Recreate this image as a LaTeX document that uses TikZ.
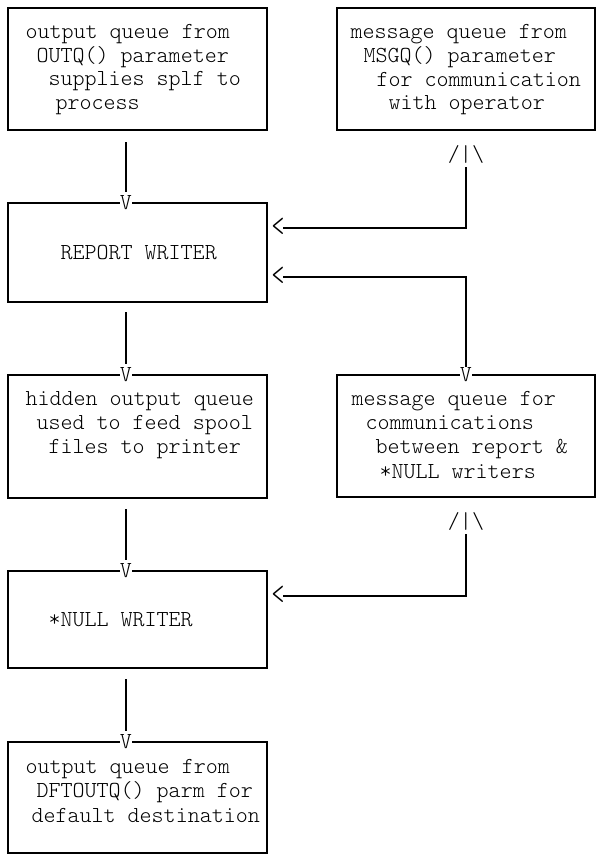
\documentclass[tikz,border=0pt]{standalone}
\usetikzlibrary{calc}
\begin{document}
\begin{tikzpicture}[x=1pt,y=-1pt,
  box/.style={draw=black, line width=1.5pt, inner sep=0pt, outer sep=0pt, rectangle},
  conn/.style={draw=black, line width=1.6pt},
  txt/.style={font=\ttfamily\fontseries{l}\fontsize{22.9}{24}\selectfont, inner sep=0pt, outer sep=0pt, anchor=base west},
  glyph/.style={font=\ttfamily\fontseries{l}\fontsize{22.9}{24}\selectfont, inner sep=0pt, outer sep=0pt, anchor=base},
]
\useasboundingbox (0,0) rectangle (597,865);

% boxes
\node[box, minimum width=259pt, minimum height=122pt] (b1) at (137.5,69) {};
\node[box, minimum width=258pt, minimum height=122pt] (b2) at (466,69) {};
\node[box, minimum width=259pt, minimum height=99pt] (b3) at (137.5,252.5) {};
\node[box, minimum width=259pt, minimum height=123pt] (b4) at (137.5,436.5) {};
\node[box, minimum width=258pt, minimum height=122pt] (b5) at (466,436) {};
\node[box, minimum width=259pt, minimum height=97pt] (b6) at (137.5,619.5) {};
\node[box, minimum width=259pt, minimum height=111pt] (b7) at (137.5,797.5) {};

% texts
\node[txt] (t1a) at (25.5,38) {output queue from};
\node[txt] (t1b) at (36.5,62) {OUTQ() parameter};
\node[txt] (t1c) at (48.5,85.5) {supplies splf to};
\node[txt] (t1d) at (55.5,109) {process};

\node[txt] (t2a) at (350.5,38) {message queue from};
\node[txt] (t2b) at (363.5,62) {MSGQ() parameter};
\node[txt] (t2c) at (376.5,86) {for communication};
\node[txt] (t2d) at (388.5,109.5) {with operator};

\node[txt] (t3a) at (60.5,259.5) {REPORT WRITER};

\node[txt] (t4a) at (25.5,405) {hidden output queue};
\node[txt] (t4b) at (36.5,429) {used to feed spool};
\node[txt] (t4c) at (48.5,453) {files to printer};

\node[txt] (t5a) at (351.5,405) {message queue for};
\node[txt] (t5b) at (365.5,429) {communications};
\node[txt] (t5c) at (375.5,453) {between report \&};
\node[txt] (t5d) at (379.5,478) {*NULL writers};

\node[txt] (t6a) at (48.5,626) {*NULL WRITER};

\node[txt] (t7a) at (25.5,773) {output queue from};
\node[txt] (t7b) at (36.5,797) {DFTOUTQ() parm for};
\node[txt] (t7c) at (31.5,822) {default destination};

% left downward connectors
\draw[conn] ($(b1.south)+(-11.5,12)$) -- ($(b3.north)+(-11.5,-11)$);
\draw[conn] ($(b3.south)+(-11.5,10)$) -- ($(b4.north)+(-11.5,-11)$);
\draw[conn] ($(b4.south)+(-11.5,11)$) -- ($(b6.north)+(-11.5,-11)$);
\draw[conn] ($(b6.south)+(-11.5,11)$) -- ($(b7.north)+(-11.5,-11)$);

\node[glyph, fill=white] (v1) at ($(b3.north)+(-11.5,6.5)$) {V};
\node[glyph, fill=white] (v2) at ($(b4.north)+(-11.5,6.5)$) {V};
\node[glyph, fill=white] (v3) at ($(b6.north)+(-11.5,6.5)$) {V};
\node[glyph, fill=white] (v4) at ($(b7.north)+(-11.5,6.5)$) {V};

% right side connectors
\draw[conn] ($(b2.south)+(0,37)$) |- ($(b3.north east)+(16,25)$);
\draw[conn] ($(b3.north east)+(16,74)$) -| ($(b5.north)+(0,-8)$);
\draw[conn] ($(b5.south)+(0,37)$) |- ($(b6.north east)+(16,25)$);

\node[glyph] (a1) at ($(b2.south)+(0,31)$) {/\textbar\textbackslash};
\node[glyph] (a2) at ($(b5.south)+(0,31)$) {/\textbar\textbackslash};
\node[glyph] (l1) at ($(b3.north east)+(11,33.3)$) {\scalebox{1.1}[1.45]{<}};
\node[glyph] (l2) at ($(b3.north east)+(11,82.3)$) {\scalebox{1.1}[1.45]{<}};
\node[glyph] (l3) at ($(b6.north east)+(11,33.3)$) {\scalebox{1.1}[1.45]{<}};
\node[glyph, fill=white] (v5) at ($(b5.north)+(0,6.5)$) {V};
\end{tikzpicture}
\end{document}
